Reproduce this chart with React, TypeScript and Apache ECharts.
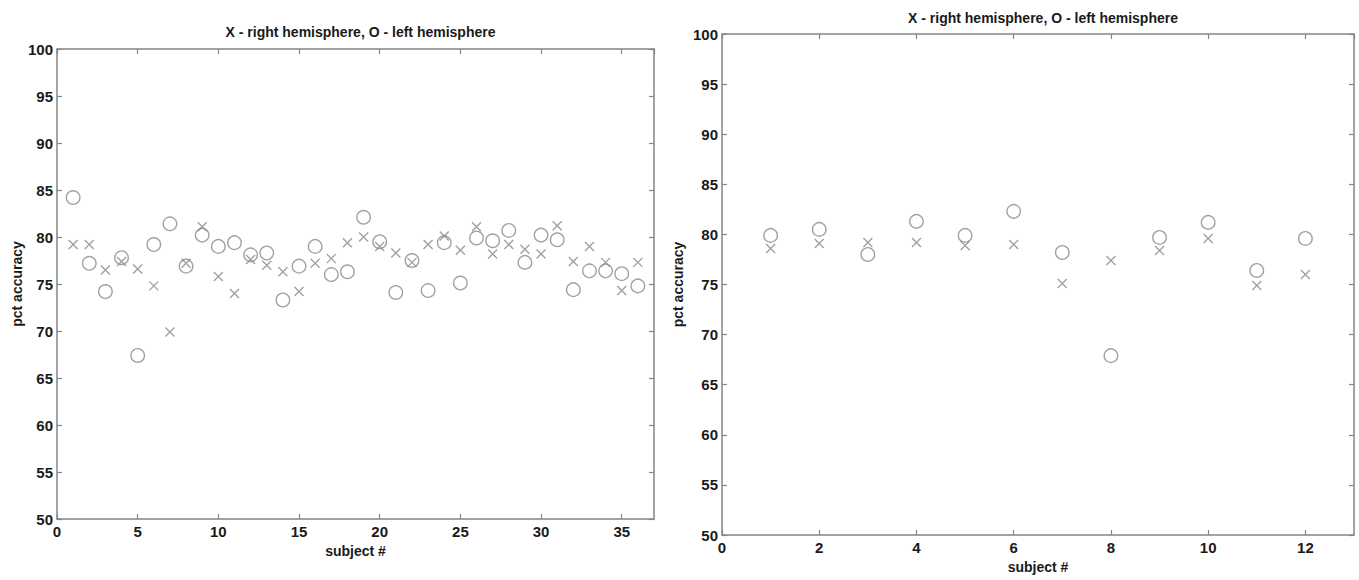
import React, { useEffect, useRef } from "react";
import * as echarts from "echarts";

// Left panel: 36 subjects
const subjectsA = Array.from({ length: 36 }, (_, i) => i + 1);
const rightHemA = [
  79.2, 79.2, 76.5, 77.4, 76.6, 74.8, 69.9, 77.2, 81.1, 75.8,
  74.0, 77.6, 77.0, 76.3, 74.2, 77.2, 77.7, 79.4, 80.0, 79.0,
  78.3, 77.3, 79.2, 80.1, 78.6, 81.1, 78.2, 79.2, 78.7, 78.2,
  81.2, 77.4, 79.0, 77.3, 74.3, 77.3,
];
const leftHemA = [
  84.2, 77.2, 74.2, 77.8, 67.4, 79.2, 81.4, 76.9, 80.2, 79.0,
  79.4, 78.1, 78.3, 73.3, 76.9, 79.0, 76.0, 76.3, 82.1, 79.5,
  74.1, 77.5, 74.3, 79.4, 75.1, 79.9, 79.6, 80.7, 77.3, 80.2,
  79.7, 74.4, 76.4, 76.4, 76.1, 74.8,
];

// Right panel: 12 subjects
const subjectsB = Array.from({ length: 12 }, (_, i) => i + 1);
const rightHemB = [78.6, 79.1, 79.2, 79.2, 78.9, 79.0, 75.1, 77.4, 78.4, 79.6, 74.9, 76.0];
const leftHemB = [79.9, 80.5, 78.0, 81.3, 79.9, 82.3, 78.2, 67.9, 79.7, 81.2, 76.4, 79.6];

const titleText = "X - right hemisphere, O - left hemisphere";
const xName = "subject #";
const yName = "pct accuracy";

const FONT = "'Liberation Sans', Arial, Helvetica, sans-serif";
const TEXT = "#1a1a1a";
const AX = "#858585";
const MARK = "#8a8a8a";
const X_SYMBOL = "path://M0,0L10,10M10,0L0,10";

const grids = [
  { left: 57, top: 49, width: 597, height: 470 },
  { left: 722, top: 34, width: 632, height: 501 },
];

export default function App() {
  const ref = useRef<HTMLDivElement>(null);
  useEffect(() => {
    document.body.style.margin = "0";
    const chart = echarts.init(ref.current!, null, { renderer: "svg" });
    const txt = { fontFamily: FONT, fontSize: 14, fontWeight: "bold" as const, color: TEXT };
    const tickTxt = { ...txt, fontSize: 15 };
    const xAxes: any[] = [];
    const yAxes: any[] = [];
    const xCfg = [
      { max: 37, interval: 5 },
      { max: 13, interval: 2 },
    ];
    [0, 1].forEach((g) => {
      const common = {
        gridIndex: g,
        type: "value",
        min: 0,
        max: xCfg[g].max,
        interval: xCfg[g].interval,
        splitLine: { show: false },
        axisLine: { onZero: false, lineStyle: { color: AX, width: 1.5 } },
        axisTick: { inside: true, length: 5, lineStyle: { color: AX, width: 1.2 } },
      };
      xAxes.push({
        ...common,
        position: "bottom",
        axisLabel: { ...tickTxt, margin: 5, showMaxLabel: false },
        name: xName,
        nameLocation: "middle",
        nameGap: 25,
        nameTextStyle: txt,
      });
      xAxes.push({ ...common, position: "top", axisLabel: { show: false } });
      const ycommon = {
        gridIndex: g,
        type: "value",
        min: 50,
        max: 100,
        interval: 5,
        splitLine: { show: false },
        axisLine: { onZero: false, lineStyle: { color: AX, width: 1.5 } },
        axisTick: { inside: true, length: 5, lineStyle: { color: AX, width: 1.2 } },
      };
      yAxes.push({
        ...ycommon,
        position: "left",
        axisLabel: { ...tickTxt, margin: 4 },
        name: yName,
        nameLocation: "middle",
        nameGap: g === 0 ? 32 : 37,
        nameTextStyle: txt,
      });
      yAxes.push({ ...ycommon, position: "right", axisLabel: { show: false } });
    });

    const mk = (xs: number[], ys: number[]) => xs.map((x, i) => [x, ys[i]]);
    const circleStyle = { color: "transparent", borderColor: MARK, borderWidth: 1.4 };
    const xStyle = { color: "transparent", borderColor: MARK, borderWidth: 1.4 };

    chart.setOption({
      animation: false,
      backgroundColor: "#ffffff",
      title: [
        { text: titleText, left: grids[0].left + grids[0].width / 2, textAlign: "center", top: 20, textStyle: txt },
        { text: titleText, left: grids[1].left + grids[1].width / 2, textAlign: "center", top: 6, textStyle: txt },
      ],
      grid: grids.map((g) => ({ ...g, containLabel: false })),
      xAxis: xAxes,
      yAxis: yAxes,
      series: [
        { type: "scatter", xAxisIndex: 0, yAxisIndex: 0, symbol: X_SYMBOL, symbolSize: 9, itemStyle: xStyle, data: mk(subjectsA, rightHemA) },
        { type: "scatter", xAxisIndex: 0, yAxisIndex: 0, symbol: "circle", symbolSize: 13.5, itemStyle: circleStyle, data: mk(subjectsA, leftHemA) },
        { type: "scatter", xAxisIndex: 2, yAxisIndex: 2, symbol: X_SYMBOL, symbolSize: 9, itemStyle: xStyle, data: mk(subjectsB, rightHemB) },
        { type: "scatter", xAxisIndex: 2, yAxisIndex: 2, symbol: "circle", symbolSize: 13.5, itemStyle: circleStyle, data: mk(subjectsB, leftHemB) },
      ],
    });
    return () => chart.dispose();
  }, []);
  return <div ref={ref} style={{ position: "absolute", left: 0, top: 0, width: 1359, height: 580 }} />;
}
